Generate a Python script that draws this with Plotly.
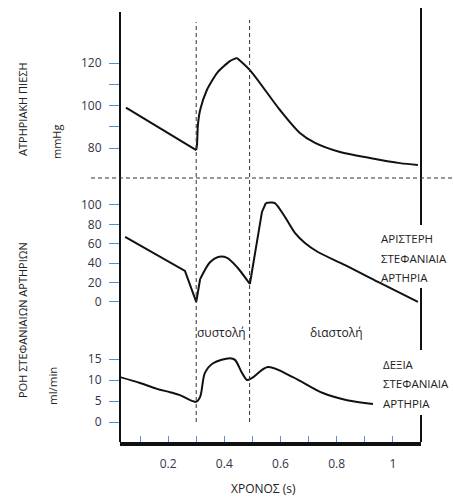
import plotly.graph_objects as go

# ---------------- data ----------------
# Aortic pressure (mmHg)
p_t1 = [0.05, 0.30]
p_v1 = [99, 79]
p_t2 = [0.30, 0.303, 0.306, 0.314, 0.338, 0.374, 0.420, 0.445]
p_v2 = [79, 82, 90.8, 97.9, 107.3, 115.3, 120.9, 122.4]
p_t3 = [0.445, 0.491, 0.598, 0.669, 0.723, 0.812, 0.918, 1.025, 1.089]
p_v3 = [122.4, 116.7, 97.9, 87.1, 82.4, 78.1, 75.3, 72.9, 72.0]

# Left coronary flow
l_t1 = [0.047, 0.260, 0.300, 0.314]
l_v1 = [67, 32, 0, 23.7]
l_t2 = [0.314, 0.349, 0.378, 0.410, 0.445, 0.491]
l_v2 = [23.7, 41, 46.4, 45.4, 36, 18.5]
l_t3 = [0.491, 0.534, 0.548]
l_v3 = [18.5, 92.8, 102]
l_t4 = [0.548, 0.564, 0.580, 0.616, 0.652, 0.687, 0.733, 0.830, 0.947, 1.089]
l_v4 = [102, 102.5, 102, 87.6, 71, 60.8, 51.5, 38, 20.6, 0]

# Right coronary flow (ml/min)
r_t = [0.029, 0.10, 0.160, 0.207, 0.242, 0.299, 0.314, 0.331, 0.360, 0.420,
       0.438, 0.463, 0.481, 0.499, 0.555, 0.644, 0.751, 0.837, 0.929]
r_v = [10.7, 9.3, 7.9, 7.1, 6.4, 4.8, 6.0, 11.7, 14.0, 15.2,
       14.8, 11.7, 10.0, 10.5, 13.1, 10.7, 6.9, 5.2, 4.3]

x_tickvals = [0.1, 0.2, 0.3, 0.4, 0.5, 0.6, 0.7, 0.8, 0.9, 1.0]
x_ticktext = ["", "0.2", "", "0.4", "", "0.6", "", "0.8", "", "1"]
p_tickvals = [80, 90, 100, 110, 120]
p_ticktext = ["80", "", "100", "", "120"]
l_tickvals = [0, 20, 40, 60, 80, 100]
r_tickvals = [0, 5, 10, 15]
systole_line = 0.30
diastole_line = 0.49

# ---------------- figure ----------------
W, H = 453, 499
def px(x):
    return x / W
def py(y):
    return 1 - y / H

FONT = "Open Sans"
LBL = "#333348"
TICKC = "#5b8bd0"
LINE = dict(color="#111111", width=2)

fig = go.Figure()
fig.add_trace(go.Scatter(x=p_t1, y=p_v1, mode="lines", line=LINE, yaxis="y"))
fig.add_trace(go.Scatter(x=p_t2, y=p_v2, mode="lines", line=dict(LINE, shape="spline", smoothing=0.6), yaxis="y"))
fig.add_trace(go.Scatter(x=p_t3, y=p_v3, mode="lines", line=dict(LINE, shape="spline", smoothing=0.8), yaxis="y"))
fig.add_trace(go.Scatter(x=l_t1, y=l_v1, mode="lines", line=LINE, yaxis="y2"))
fig.add_trace(go.Scatter(x=l_t2, y=l_v2, mode="lines", line=dict(LINE, shape="spline", smoothing=0.8), yaxis="y2"))
fig.add_trace(go.Scatter(x=l_t3, y=l_v3, mode="lines", line=LINE, yaxis="y2"))
fig.add_trace(go.Scatter(x=l_t4, y=l_v4, mode="lines", line=dict(LINE, shape="spline", smoothing=0.8), yaxis="y2"))
fig.add_trace(go.Scatter(x=r_t, y=r_v, mode="lines", line=dict(LINE, shape="spline", smoothing=0.9), yaxis="y3"))

tickfont = dict(family=FONT, size=12, color=LBL)
yax_common = dict(showgrid=False, zeroline=False, showline=False, ticks="outside",
                  ticklen=10, tickwidth=1, tickcolor=TICKC, tickfont=tickfont,
                  anchor="x", fixedrange=True, ticklabelstandoff=5)

fig.update_layout(
    width=W, height=H,
    margin=dict(l=0, r=0, t=0, b=0),
    paper_bgcolor="white", plot_bgcolor="white",
    showlegend=False,
    hovermode=False,
    xaxis=dict(domain=[px(120), px(421)], range=[0.0288, 1.1], anchor="y3",
               showgrid=False, zeroline=False, showline=True, linecolor="#111111",
               linewidth=4, ticks="inside", ticklen=6, tickwidth=1, tickcolor=TICKC,
               tickvals=x_tickvals, ticktext=x_ticktext, tickfont=tickfont,
               ticklabelstandoff=8, fixedrange=True),
    yaxis=dict(yax_common, domain=[py(178), py(8)], range=[65.9, 145.9],
               tickvals=p_tickvals, ticktext=p_ticktext),
    yaxis2=dict(yax_common, domain=[py(320), py(178)], range=[-18.6, 127.8],
                tickvals=l_tickvals),
    yaxis3=dict(yax_common, domain=[py(442), py(320)], range=[-4.76, 24.3],
                tickvals=r_tickvals),
)

shapes = []
# left vertical axis line
shapes.append(dict(type="line", xref="paper", yref="paper", x0=px(120), x1=px(120),
                   y0=py(442), y1=py(12), line=dict(color="#111111", width=2)))
# right vertical line with gaps for labels
for a, b in [(8, 225), (288, 350), (415, 442)]:
    shapes.append(dict(type="line", xref="paper", yref="paper", x0=px(421), x1=px(421),
                       y0=py(b), y1=py(a), line=dict(color="#111111", width=2)))
# dashed verticals
for xv, top in [(systole_line, 22), (diastole_line, 20)]:
    shapes.append(dict(type="line", xref="x", yref="paper", x0=xv, x1=xv,
                       y0=py(422), y1=py(top), line=dict(color="#333333", width=1, dash="4px,3px")))
# dashed horizontal
shapes.append(dict(type="line", xref="paper", yref="paper", x0=px(91), x1=1,
                   y0=py(178), y1=py(178), line=dict(color="#333333", width=1, dash="4px,3px")))
fig.update_layout(shapes=shapes)

TXT = "#222222"
ann = []
def add(text, x, y, angle=0, xanchor="center", size=12):
    ann.append(dict(text=text, x=px(x), y=py(y), xref="paper", yref="paper",
                    showarrow=False, textangle=angle, xanchor=xanchor, yanchor="middle",
                    font=dict(family=FONT, size=size, color=TXT)))

add("ΑΤΡΗΡΙΑΚΗ ΠΙΕΣΗ", 22, 109, angle=-90, size=11)
add("mmHg", 56, 142, angle=-90, size=11)
add("ΡΟΗ ΣΤΕΦΑΝΙΑΙΩΝ ΑΡΤΗΡΙΩΝ", 22, 320, angle=-90, size=11)
add("ml/min", 52, 386, angle=-90, size=11.5)
add("συστολή", 221, 332, size=12)
add("διαστολή", 336, 332, size=12)
add("ΑΡΙΣΤΕΡΗ", 379, 238, xanchor="left", size=11.5)
add("ΣΤΕΦΑΝΙΑΙΑ", 379, 258, xanchor="left", size=11.5)
add("ΑΡΤΗΡΙΑ", 379, 277, xanchor="left", size=11.5)
add("ΔΕΞΙΑ", 381, 364, xanchor="left", size=11.5)
add("ΣΤΕΦΑΝΙΑΙΑ", 381, 383, xanchor="left", size=11.5)
add("ΑΡΤΗΡΙΑ", 381, 403, xanchor="left", size=11.5)
add("ΧΡΟΝΟΣ (s)", 263, 488, size=12)
fig.update_layout(annotations=ann)

fig.write_html("out.html", config={"displayModeBar": False, "staticPlot": True},
               post_script="document.body.style.margin='0px';")
